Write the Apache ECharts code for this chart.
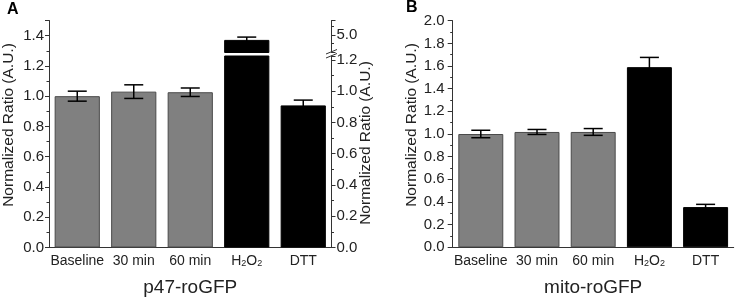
<!DOCTYPE html>
<html>
<head>
<meta charset="utf-8">
<script src="https://cdn.jsdelivr.net/npm/echarts@6/dist/echarts.min.js"></script>
<style>
html, body { margin: 0; padding: 0; background: #fff; }
#chart { width: 737px; height: 301px; }
</style>
</head>
<body>
<div id="chart"></div>
<script>
const categories = ['Baseline', '30 min', '60 min', 'H2O2', 'DTT']

// panel A, p47-roGFP (H2O2 is read on the broken right axis)
const valuesA = [1.00, 1.03, 1.026, 4.86, 0.939]
const errorsA = [0.033, 0.045, 0.028, 0.08, 0.035]

// panel B, mito-roGFP
const valuesB = [1.00, 1.018, 1.018, 1.59, 0.355]
const errorsB = [0.033, 0.022, 0.03, 0.086, 0.024]

const titles = ['p47-roGFP', 'mito-roGFP']
const yName = 'Normalized Ratio (A.U.)'

const H2O2 = 3
const FONT = '"Liberation Sans", Arial, sans-serif'
const AXIS = '#333'
const TEXT = '#222'

const fmt1 = v => v.toFixed(1)

function barStyle(i) {
	return i >= H2O2
		? { color: '#000', borderColor: '#000', borderWidth: 1 }
		: { color: '#808080', borderColor: '#4a4a4a', borderWidth: 1 }
}

function bars(values, keep) {
	return values.map((v, i) => keep(i) ? { value: v, itemStyle: barStyle(i) } : '-')
}

function errs(values, errors, keep) {
	const out = []
	values.forEach((v, i) => {
		if (keep(i)) out.push([i, v - errors[i], v + errors[i]])
	})
	return out
}

function renderErr(params, api) {
	const top = api.coord([api.value(0), api.value(2)])
	const bot = api.coord([api.value(0), api.value(1)])
	const hw = 9.5
	const style = { stroke: '#000', lineWidth: 1.5 }
	return {
		type: 'group',
		children: [
			{ type: 'line', shape: { x1: top[0], y1: top[1], x2: bot[0], y2: bot[1] }, style },
			{ type: 'line', shape: { x1: top[0] - hw, y1: top[1], x2: top[0] + hw, y2: top[1] }, style },
			{ type: 'line', shape: { x1: bot[0] - hw, y1: bot[1], x2: bot[0] + hw, y2: bot[1] }, style }
		]
	}
}

function labelAxis(gridIndex, name) {
	return {
		type: 'category',
		gridIndex,
		data: categories,
		name,
		nameLocation: 'middle',
		nameGap: 31,
		nameTextStyle: { fontFamily: FONT, fontSize: 19, color: TEXT },
		axisLine: { lineStyle: { color: AXIS, width: 1 } },
		axisTick: { alignWithLabel: true, length: 5, lineStyle: { color: AXIS } },
		axisLabel: {
			interval: 0,
			margin: 7,
			fontFamily: FONT,
			fontSize: 14,
			lineHeight: 14,
			color: TEXT,
			verticalAlign: 'top',
			formatter: v => v === 'H2O2' ? '{n|H}{s|2}{n|O}{s|2}' : v,
			rich: {
				n: { fontFamily: FONT, fontSize: 14, lineHeight: 14, color: TEXT, verticalAlign: 'top', padding: [0, 0, 5, 0] },
				s: { fontFamily: FONT, fontSize: 9, lineHeight: 14, color: TEXT, verticalAlign: 'bottom' }
			}
		}
	}
}

function boundaryAxis(gridIndex) {
	return {
		type: 'category',
		gridIndex,
		data: categories,
		axisLine: { show: false },
		axisTick: { interval: 0, length: 3, lineStyle: { color: AXIS } },
		axisLabel: { show: false }
	}
}

function hiddenAxis(gridIndex) {
	return { type: 'category', gridIndex, data: categories, show: false }
}

const nameStyle = { fontFamily: FONT, fontSize: 15.5, color: TEXT, padding: [0, 0, 0, 18] }

function valueAxis(extra) {
	return Object.assign({
		type: 'value',
		splitLine: { show: false },
		axisLine: { show: true, lineStyle: { color: AXIS, width: 1 } },
		axisTick: { show: true, length: 4, lineStyle: { color: AXIS } },
		minorTick: { show: true, splitNumber: 2, length: 2.5, lineStyle: { color: AXIS } },
		axisLabel: { fontFamily: FONT, fontSize: 15, color: TEXT, margin: 5, formatter: fmt1 },
		nameLocation: 'middle',
		nameTextStyle: nameStyle
	}, extra)
}

const option = {
	animation: false,
	backgroundColor: '#fff',
	grid: [
		{ left: 49, top: 20.5, width: 282.5, height: 227, outerBoundsMode: 'none' },    // A main, left axis
		{ left: 49, top: 20.5, width: 282.5, height: 32, outerBoundsMode: 'none' },     // A upper part of broken right axis
		{ left: 49, top: 56, width: 282.5, height: 191.5, outerBoundsMode: 'none' },    // A lower part of broken right axis
		{ left: 452.7, top: 20.7, width: 281, height: 226.6, outerBoundsMode: 'none' }  // B
	],
	xAxis: [
		labelAxis(0, titles[0]),
		boundaryAxis(0),
		hiddenAxis(1),
		hiddenAxis(2),
		labelAxis(3, titles[1]),
		boundaryAxis(3)
	],
	yAxis: [
		valueAxis({ gridIndex: 0, position: 'left', min: 0, max: 1.5, interval: 0.2,
			axisLabel: { fontFamily: FONT, fontSize: 15, color: TEXT, margin: 5, formatter: fmt1, showMaxLabel: false },
			name: yName, nameGap: 32 }),
		// only carries the right-hand axis title of panel A
		{ type: 'value', gridIndex: 0, position: 'right', min: 0, max: 1.5,
			splitLine: { show: false }, axisLine: { show: false }, axisTick: { show: false },
			axisLabel: { show: false }, name: yName, nameLocation: 'middle', nameGap: 26,
			nameTextStyle: { fontFamily: FONT, fontSize: 15.5, color: TEXT, padding: [0, 18, 0, 0] } },
		valueAxis({ gridIndex: 1, position: 'right', min: 4.5, max: 5.414, interval: 0.5,
			axisLabel: { fontFamily: FONT, fontSize: 15, color: TEXT, margin: 5,
				formatter: v => Math.abs(v - 5) < 1e-6 ? fmt1(v) : '' } }),
		valueAxis({ gridIndex: 2, position: 'right', min: 0, max: 1.225, interval: 0.2,
			axisLabel: { fontFamily: FONT, fontSize: 15, color: TEXT, margin: 5, formatter: fmt1, showMaxLabel: false } }),
		valueAxis({ gridIndex: 3, position: 'left', min: 0, max: 2, interval: 0.2,
			axisTick: { show: true, length: 5, lineStyle: { color: AXIS } },
			axisLabel: { fontFamily: FONT, fontSize: 15, color: TEXT, margin: 8, formatter: fmt1 },
			name: yName, nameGap: 33 })
	],
	series: [
		{ type: 'bar', xAxisIndex: 0, yAxisIndex: 0, barWidth: '80%',
			data: bars(valuesA, i => i !== H2O2) },
		{ type: 'bar', xAxisIndex: 2, yAxisIndex: 2, barWidth: '80%', clip: true,
			data: bars(valuesA, i => i === H2O2) },
		{ type: 'bar', xAxisIndex: 3, yAxisIndex: 3, barWidth: '80%', clip: true,
			data: bars(valuesA, i => i === H2O2) },
		{ type: 'custom', xAxisIndex: 0, yAxisIndex: 0, renderItem: renderErr, z: 5,
			encode: { x: 0, y: [1, 2] }, data: errs(valuesA, errorsA, i => i !== H2O2) },
		{ type: 'custom', xAxisIndex: 2, yAxisIndex: 2, renderItem: renderErr, z: 5,
			encode: { x: 0, y: [1, 2] }, data: errs(valuesA, errorsA, i => i === H2O2) },
		{ type: 'bar', xAxisIndex: 4, yAxisIndex: 4, barWidth: '80%',
			data: bars(valuesB, () => true) },
		{ type: 'custom', xAxisIndex: 4, yAxisIndex: 4, renderItem: renderErr, z: 5,
			encode: { x: 0, y: [1, 2] }, data: errs(valuesB, errorsB, () => true) }
	],
	graphic: [
		{ type: 'text', left: 7, top: 2, style: { text: 'A', fontFamily: FONT, fontSize: 16, fontWeight: 'bold', fill: '#000' } },
		{ type: 'text', left: 406, top: 0, style: { text: 'B', fontFamily: FONT, fontSize: 16, fontWeight: 'bold', fill: '#000' } },
		// break mark on the right axis of panel A
		{ type: 'line', shape: { x1: 326, y1: 54, x2: 337, y2: 49.5 }, style: { stroke: AXIS, lineWidth: 1 } },
		{ type: 'line', shape: { x1: 326, y1: 58, x2: 337, y2: 53.5 }, style: { stroke: AXIS, lineWidth: 1 } }
	]
}

const chartDom = echarts.init(document.getElementById('chart'))
chartDom.setOption(option, true)
</script>
</body>
</html>
